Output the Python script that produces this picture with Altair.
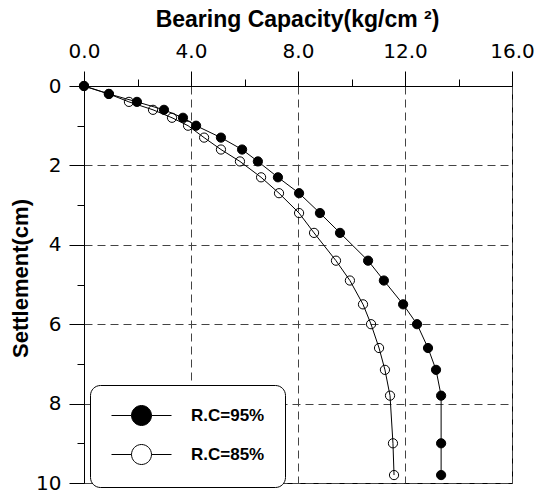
import altair as alt
import pandas as pd

# Settlement (cm) at each load step, shared by both series
settlement = [0, 0.2, 0.4, 0.6, 0.8, 1.0, 1.3, 1.6, 1.9, 2.3, 2.7, 3.2, 3.7,
              4.4, 4.9, 5.5, 6.0, 6.6, 7.15, 7.8, 9.0, 9.8]
# Bearing capacity (kg/cm2)
cap_95 = [0, 0.93, 1.98, 2.99, 3.70, 4.19, 5.12, 5.91, 6.50, 7.25, 8.04, 8.82,
          9.57, 10.62, 11.21, 11.93, 12.45, 12.86, 13.16, 13.35, 13.35, 13.35]
cap_85 = [0, 0.93, 1.68, 2.58, 3.29, 3.89, 4.49, 5.12, 5.83, 6.62, 7.29, 8.04,
          8.60, 9.42, 9.94, 10.43, 10.73, 11.03, 11.25, 11.44, 11.55, 11.59]
series_names = ["R.C=95%", "R.C=85%"]
x_ticks = [0, 2, 4, 6, 8, 10, 12, 14, 16]
y_ticks = [0, 1, 2, 3, 4, 5, 6, 7, 8, 9, 10]

rows = []
for name, caps in [(series_names[1], cap_85), (series_names[0], cap_95)]:
    for i, (c, s) in enumerate(zip(caps, settlement)):
        rows.append({"series": name, "capacity": c, "settlement": s, "order": i})
df = pd.DataFrame(rows)

LEGEND_SYMBOL = "M-3,0L-1,0M1,0L3,0M-1,0A1,1,0,1,1,1,0A1,1,0,1,1,-1,0Z"

x_enc = alt.X(
    "capacity:Q",
    scale=alt.Scale(domain=[0, 16], nice=False, zero=False),
    axis=alt.Axis(
        orient="top",
        values=x_ticks,
        labelExpr="datum.value % 4 == 0 ? format(datum.value, '.1f') : ''",
        labelFlush=False,
        labelOverlap=False,
        tickSize={"condition": {"test": "datum.value % 4 == 0", "value": 15}, "value": 7},
        gridOpacity={"condition": {"test": "datum.value % 4 == 0", "value": 1}, "value": 0},
        labelPadding=10,
        title="Bearing Capacity(kg/cm ²)",
        titleFontSize=23,
        titleX=213,
        titleY=-60,
        titleBaseline="alphabetic",
    ),
)
y_enc = alt.Y(
    "settlement:Q",
    scale=alt.Scale(domain=[0, 10], nice=False, zero=False, reverse=True),
    axis=alt.Axis(
        orient="left",
        values=y_ticks,
        labelExpr="datum.value % 2 == 0 ? format(datum.value, 'd') : ''",
        labelOverlap=False,
        tickSize={"condition": {"test": "datum.value % 2 == 0", "value": 15}, "value": 7},
        gridOpacity={"condition": {"test": "datum.value % 2 == 0", "value": 1}, "value": 0},
        labelPadding=8,
        title="Settlement(cm)",
        titleX=-52,
        titleY=192,
    ),
)

lines = alt.Chart(df).mark_line(color="black", strokeWidth=1).encode(
    x=x_enc, y=y_enc, detail="series:N", order="order:Q"
)
points = alt.Chart(df).mark_point(
    filled=False, size=85, stroke="black", strokeWidth=1, opacity=1
).encode(
    x=x_enc,
    y=y_enc,
    fill=alt.Fill(
        "series:N",
        scale=alt.Scale(domain=series_names, range=["black", "transparent"]),
        legend=alt.Legend(
            title=None,
            orient="none",
            legendX=6,
            legendY=299,
            padding=20,
            strokeColor="black",
            fillColor="white",
            cornerRadius=10,
            symbolType=LEGEND_SYMBOL,
            symbolSize=400,
            symbolStrokeColor="black",
            symbolStrokeWidth=1,
            symbolOffset=21,
            labelOffset=39,
            rowPadding=14,
            labelFont="Liberation Sans",
            labelFontWeight="bold",
            labelFontSize=17,
            labelColor="black",
        ),
    ),
)

chart = (
    alt.layer(lines, points)
    .properties(
        width=428,
        height=397,
        autosize=alt.AutoSizeParams(type="none"),
        padding={"left": 84, "top": 86, "right": 36, "bottom": 13},
        background="white",
    )
    .configure_view(stroke="black", strokeWidth=1)
    .configure_axis(
        domainColor="black",
        domainWidth=1,
        tickColor="black",
        tickWidth=1,
        gridColor="#444444",
        gridDash=[8, 5],
        gridWidth=1,
        labelFont="DejaVu Sans",
        labelFontSize=20,
        labelColor="black",
        titleFont="Liberation Sans",
        titleFontSize=22,
        titleFontWeight="bold",
        titleColor="black",
    )
)

chart.save("out.html", embed_options={"renderer": "svg", "actions": False})
